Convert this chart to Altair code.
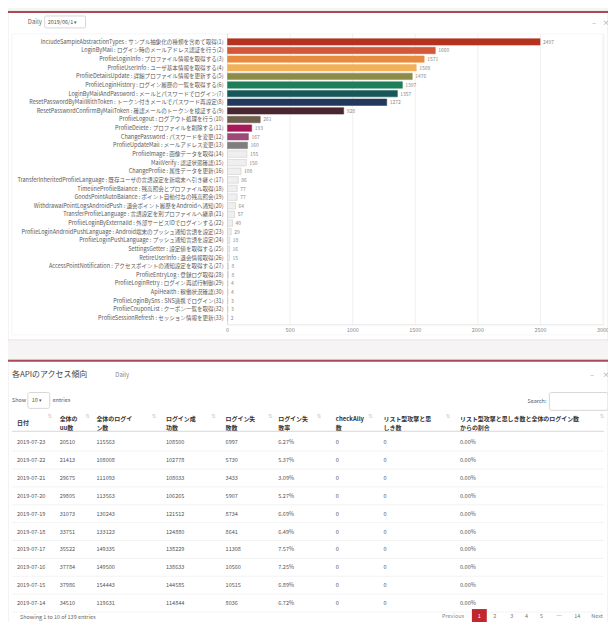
import altair as alt
import pandas as pd

FONT = "Noto Sans CJK JP"

# ---------------- data: bar chart ----------------
api_labels = [
    "IncludeSampleAbstractionTypes : サンプル抽象化の種類を含めて取得(1)",
    "LoginByMail : ログイン時のメールアドレス認証を行う(2)",
    "ProfileLoginInfo : プロファイル情報を取得する(3)",
    "ProfileUserInfo : ユーザ基本情報を取得する(4)",
    "ProfileDetailsUpdate : 詳細プロファイル情報を更新する(5)",
    "ProfileLoginHistory : ログイン履歴の一覧を取得する(6)",
    "LoginByMailAndPassword : メールとパスワードでログイン(7)",
    "ResetPasswordByMailWithToken : トークン付きメールでパスワード再設定(8)",
    "ResetPasswordConfirmByMailToken : 確認メールのトークンを検証する(9)",
    "ProfileLogout : ログアウト処理を行う(10)",
    "ProfileDelete : プロファイルを削除する(11)",
    "ChangePassword : パスワードを変更(12)",
    "ProfileUpdateMail : メールアドレス変更(13)",
    "ProfileImage : 画像データを取得(14)",
    "MailVerify : 認証状態確認(15)",
    "ChangeProfile : 属性データを更新(16)",
    "TransferInheritedProfileLanguage : 既存ユーザの言語設定を新端末へ引き継ぐ(17)",
    "TimelineProfileBalance : 残高照会とプロファイル取得(18)",
    "GoodsPointAutoBalance : ポイント自動付与の残高照会(19)",
    "WithdrawalPointLogsAndroidPush : 退会ポイント履歴をAndroidへ通知(20)",
    "TransferProfileLanguage : 言語設定を別プロファイルへ継承(21)",
    "ProfileLoginByExternalId : 外部サービスIDでログインする(22)",
    "ProfileLoginAndroidPushLanguage : Android端末のプッシュ通知言語を設定(23)",
    "ProfileLoginPushLanguage : プッシュ通知言語を設定(24)",
    "SettingsGetter : 設定値を取得する(25)",
    "RetireUserInfo : 退会情報取得(26)",
    "AccessPointNotification : アクセスポイントの通知設定を取得する(27)",
    "ProfileEntryLog : 登録ログ取得(28)",
    "ProfileLoginRetry : ログイン再試行制御(29)",
    "ApiHealth : 稼働状況確認(30)",
    "ProfileLoginBySns : SNS連携でログイン(31)",
    "ProfileCouponList : クーポン一覧を取得(32)",
    "ProfileSessionRefresh : セッション情報を更新(33)",
]
api_counts = [2497, 1660, 1571, 1508, 1476, 1397, 1357, 1272, 928, 261,
              193, 167, 160, 155, 150, 108, 86, 77, 77, 64,
              57, 40, 29, 18, 16, 15, 8, 8, 4, 4, 3, 3, 2]
x_ticks = [0, 500, 1000, 1500, 2000, 2500, 3000]

# ---------------- data: table ----------------
table_headers = [["日付"], ["全体の", "uu数"], ["全体のログイ", "ン数"], ["ログイン成", "功数"],
                 ["ログイン失", "敗数"], ["ログイン失", "敗率"], ["checkAlly", "数"],
                 ["リスト型攻撃と思", "しき数"],
                 ["リスト型攻撃と思しき数と全体のログイン数", "からの割合"]]
dates = ["2019-07-23", "2019-07-22", "2019-07-21", "2019-07-20", "2019-07-19",
         "2019-07-18", "2019-07-17", "2019-07-16", "2019-07-15", "2019-07-14"]
uu = [20510, 21413, 29675, 29805, 31073, 33751, 35522, 37784, 37986, 34510]
total_login = [115563, 108008, 111093, 113563, 130243, 133123, 149335, 149500, 154443, 119631]
login_ok = [108500, 102778, 108033, 106265, 121512, 124880, 138229, 138633, 144585, 114844]
login_ng = [6997, 5730, 3433, 5907, 8734, 8641, 11308, 10560, 10515, 8036]
ng_rate = [6.27, 5.37, 3.09, 5.27, 6.69, 6.49, 7.57, 7.25, 6.89, 6.72]
check_ally = [0, 0, 0, 0, 0, 0, 0, 0, 0, 0]
list_attack = [0, 0, 0, 0, 0, 0, 0, 0, 0, 0]
list_ratio = [0.0, 0.0, 0.0, 0.0, 0.0, 0.0, 0.0, 0.0, 0.0, 0.0]
pages = ["1", "2", "3", "4", "5", "…", "14"]

# ---------------- styles / layout ----------------
top_colors = ["#b5321f", "#d2583a", "#e98b3f", "#f2b05a", "#8d8b48", "#1f7f5a",
              "#16585a", "#23395b", "#4a2630", "#6e5e4c", "#a8195a", "#9c4a78", "#7e7e7e"]
bar_fill = top_colors + ["#efefef"] * (len(api_labels) - len(top_colors))
bar_stroke = top_colors + ["#c4c4c4"] * (len(api_labels) - len(top_colors))
col_x = [9, 52, 89, 159, 219, 272, 330, 378, 455]
sort_x = [42, 80, 147, 207, 264, 313, 365, 443, 598]
W, H = 604, 614

one = pd.DataFrame({"k": [0]})


def box(x1, x2, y1, y2, fill, stroke=None, sw=0.6, r=0):
    kw = dict(fill=fill)
    if stroke:
        kw.update(stroke=stroke, strokeWidth=sw)
    if r:
        kw["cornerRadius"] = r
    return alt.Chart(one).mark_rect(**kw).encode(
        x=alt.value(x1), x2=alt.value(x2), y=alt.value(y1), y2=alt.value(y2))


def label(x, y, s, size=6, color="#555", align="left", baseline="middle",
          weight="normal", font=FONT, lh=None):
    kw = dict(text=s, fontSize=size, color=color, align=align, baseline=baseline,
              fontWeight=weight, font=font)
    if lh:
        kw["lineHeight"] = lh
    return alt.Chart(one).mark_text(**kw).encode(x=alt.value(x), y=alt.value(y))


layers = []
# panels
layers += [
    box(0, W, 1, 332, "#ffffff", "#e3dfdf", 0.8),
    box(4, 600, 24, 327, "#ffffff", "#eeeeee", 0.6),
    box(0, W, 1, 3, "#a94a58"),
    box(0, W, 352, 640, "#ffffff", "#e3dfdf", 0.8),
    box(0, W, 352, 354, "#a94a58"),
]
# top panel header
layers += [
    label(20, 12, "Daily", 6, "#666"),
    box(37, 78, 6, 18, "#ffffff", "#bbbbbb", 0.6, 1),
    label(40, 12, "2019/06/1 ▾", 5.5, "#555"),
    label(590, 13, "–", 7, "#999", "center"),
    label(602, 13, "×", 7, "#999", "center"),
]

# bar chart
bars_df = pd.DataFrame({"api": api_labels, "count": api_counts})
ticks_df = pd.DataFrame({"t": x_ticks})
bx = alt.Scale(domain=[0, 3000], range=[221, 599])
by = alt.Scale(domain=api_labels, range=[27.7, 314.3], paddingInner=0.25, paddingOuter=0.125)

grid = alt.Chart(ticks_df).mark_rule(color="#ebebeb", strokeWidth=0.8).encode(
    x=alt.X("t:Q", scale=bx, axis=None), y=alt.value(24), y2=alt.value(317))
tick_text = alt.Chart(ticks_df).mark_text(fontSize=5.5, color="#888", font=FONT,
                                          baseline="top").encode(
    x=alt.X("t:Q", scale=bx, axis=None), y=alt.value(320), text="t:Q")
baseline = box(221, 599, 316.5, 317.3, "#dddddd")
yline = box(220.6, 221.4, 24, 317, "#dddddd")
bars = alt.Chart(bars_df).mark_bar(strokeWidth=0.5).encode(
    x=alt.X("count:Q", scale=bx, axis=None),
    y=alt.Y("api:N", scale=by, axis=None),
    color=alt.Color("api:N", scale=alt.Scale(domain=api_labels, range=bar_fill), legend=None),
    stroke=alt.Stroke("api:N", scale=alt.Scale(domain=api_labels, range=bar_stroke), legend=None),
)
values = alt.Chart(bars_df).mark_text(align="left", dx=3, fontSize=5, color="#888",
                                      font=FONT).encode(
    x=alt.X("count:Q", scale=bx, axis=None),
    y=alt.Y("api:N", scale=by, axis=None),
    text="count:Q")
ylabels = alt.Chart(bars_df).mark_text(align="right", fontSize=5.6, color="#5a5a5a",
                                       font=FONT).encode(
    x=alt.value(217),
    y=alt.Y("api:N", scale=by, axis=None),
    text="api:N")
layers += [grid, baseline, yline, tick_text, bars, values, ylabels]

# bottom panel header
layers += [
    label(4, 367, "各APIのアクセス傾向", 8, "#444"),
    label(108, 367, "Daily", 6, "#888"),
    label(588, 367, "–", 7, "#999", "center"),
    label(602, 367, "×", 7, "#999", "center"),
    label(4, 393, "Show", 5.5, "#555"),
    box(20, 42, 385, 401, "#ffffff", "#bbbbbb", 0.6, 2),
    label(24, 393, "10 ▾", 5.5, "#555"),
    label(45, 393, "entries", 5.5, "#555"),
    label(542, 394, "Search:", 5.5, "#555", "right"),
    box(545, 604, 385, 403, "#ffffff", "#bbbbbb", 0.6, 2),
]
# table header
for cx, hdr in zip(col_x, table_headers):
    if len(hdr) == 1:
        layers.append(label(cx, 416, hdr[0], 6, "#333", weight="bold"))
    else:
        layers.append(label(cx, 412, hdr, 6, "#333", weight="bold", lh=9))
for sx in sort_x:
    layers.append(label(sx, 409, "⇅", 5.5, "#cccccc", "center", font="DejaVu Sans"))
layers.append(box(4, 600, 423.5, 424.5, "#d6d6d6"))

# table body
tbl = pd.DataFrame({
    "row": list(range(len(dates))),
    "c0": dates,
    "c1": [str(v) for v in uu],
    "c2": [str(v) for v in total_login],
    "c3": [str(v) for v in login_ok],
    "c4": [str(v) for v in login_ng],
    "c5": [f"{v:.2f}%" for v in ng_rate],
    "c6": [str(v) for v in check_ally],
    "c7": [str(v) for v in list_attack],
    "c8": [f"{v:.2f}%" for v in list_ratio],
})
rows_dom = list(range(len(dates)))
ty = alt.Scale(type="point", domain=rows_dom, range=[435, 597], padding=0)
tsep = alt.Scale(type="point", domain=rows_dom, range=[444, 606], padding=0)
layers.append(alt.Chart(tbl).mark_rule(color="#f0f0f0", strokeWidth=0.8).encode(
    y=alt.Y("row:O", scale=tsep, axis=None), x=alt.value(4), x2=alt.value(600)))
for i, cx in enumerate(col_x):
    layers.append(alt.Chart(tbl).mark_text(align="left", fontSize=5.6, color="#555",
                                           font=FONT).encode(
        x=alt.value(cx), y=alt.Y("row:O", scale=ty, axis=None), text=f"c{i}:N"))

# footer
layers.append(label(12, 611, "Showing 1 to 10 of 139 entries", 5.5, "#666"))
layers.append(label(448, 610, "Previous", 5.5, "#888", "center"))
layers.append(box(467, 482, 603, 617, "#c0282d"))
page_x = [474.5, 490, 507, 522, 537, 555, 573]
for px, p in zip(page_x, pages):
    layers.append(label(px, 610, p, 5.5, "#ffffff" if p == "1" else "#777", "center"))
layers.append(label(593, 610, "Next", 5.5, "#777", "center"))

chart = alt.layer(*layers).resolve_scale(
    x="independent", y="independent", color="independent", stroke="independent"
).properties(
    width=W, height=H, padding=0,
    autosize=alt.AutoSizeParams(type="none"),
    background="#f6f4f4",
).configure_view(stroke=None)

chart.save("out.html", embed_options={"renderer": "svg", "actions": False})
